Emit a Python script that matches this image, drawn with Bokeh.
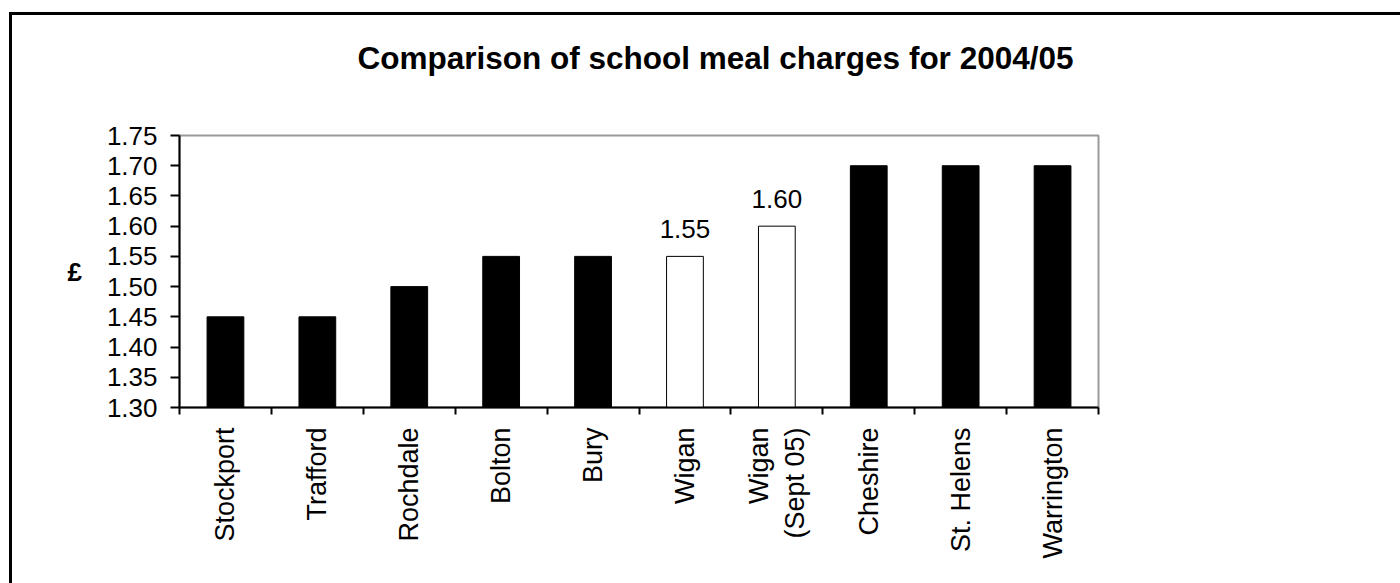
import math
from bokeh.plotting import figure
from bokeh.models import (ColumnDataSource, Range1d, FixedTicker, LabelSet,
                          NumeralTickFormatter, Title)
from bokeh.core.properties import value
from bokeh.embed import file_html
from bokeh.resources import INLINE

# ---- data ----
categories = ["Stockport", "Trafford", "Rochdale", "Bolton", "Bury", "Wigan",
              "Wigan\n(Sept 05)", "Cheshire", "St. Helens", "Warrington"]
charges = [1.45, 1.45, 1.50, 1.55, 1.55, 1.55, 1.60, 1.70, 1.70, 1.70]
is_wigan = [False, False, False, False, False, True, True, False, False, False]
y_ticks = ["1.30", "1.35", "1.40", "1.45", "1.50", "1.55", "1.60", "1.65", "1.70", "1.75"]
title_text = "Comparison of school meal charges for 2004/05"
y_label = "£"

FONT = "Liberation Sans"

xs = [i + 0.5 for i in range(len(categories))]
fills = ["white" if w else "black" for w in is_wigan]
y_vals = [float(t) for t in y_ticks]

src = ColumnDataSource(dict(x=xs, top=charges, fill=fills))
lab_src = ColumnDataSource(dict(
    x=[x for x, w in zip(xs, is_wigan) if w],
    y=[c for c, w in zip(charges, is_wigan) if w],
    text=["%.2f" % c for c, w in zip(charges, is_wigan) if w],
))

p = figure(width=1400, height=583, output_backend="svg", toolbar_location=None,
           x_range=Range1d(0, len(categories)), y_range=Range1d(y_vals[0], y_vals[-1]),
           min_border_left=179, min_border_right=302, min_border_top=135,
           min_border_bottom=176)
p.background_fill_color = "white"
p.border_fill_color = None
p.outline_line_color = "#9a9a9a"
p.outline_line_width = 2
p.xgrid.visible = False
p.ygrid.visible = False
# outer chart border (top and left edges visible in the window)
p.styles = {
    "background-color": "white",
    "background-image": "linear-gradient(#000,#000), linear-gradient(#000,#000)",
    "background-size": "3px 100%, 100% 3px",
    "background-position": "9px 12px, 9px 12px",
    "background-repeat": "no-repeat",
}

p.vbar(x="x", top="top", bottom=y_vals[0], width=0.4, fill_color="fill",
       line_color="black", line_width=1, source=src)

labels = LabelSet(x="x", y="y", text="text", source=lab_src, text_align="center",
                  text_baseline="alphabetic", y_offset=18, text_font=value(FONT),
                  text_font_size="26px", text_color="black")
p.add_layout(labels)

# spacer between frame and title (keeps the title high above the plot)
spacer = Title(text=" ", text_font_size="1px", text_color="white", standoff=57)
p.add_layout(spacer, "above")

# title
p.title.text = title_text
p.title.text_font = FONT
p.title.text_font_size = "31.5px"
p.title.text_font_style = "bold"
p.title.text_color = "black"
p.title.align = "left"
p.title.offset = 178
p.title.vertical_align = "bottom"
p.title.standoff = 0

# y axis
ya = p.yaxis[0]
ya.ticker = FixedTicker(ticks=y_vals, minor_ticks=[])
ya.formatter = NumeralTickFormatter(format="0.00")
ya.major_tick_in = 0
ya.major_tick_out = 9
ya.minor_tick_out = 0
ya.minor_tick_in = 0
ya.major_label_standoff = 13
ya.major_label_text_font = FONT
ya.major_label_text_font_size = "26px"
ya.major_label_text_color = "black"
ya.axis_line_color = "black"
ya.axis_line_width = 2
ya.major_tick_line_color = "black"
ya.major_tick_line_width = 2
ya.axis_label = y_label
ya.axis_label_text_font = FONT
ya.axis_label_text_font_size = "26px"
ya.axis_label_text_font_style = "bold"
ya.axis_label_text_color = "black"
ya.axis_label_standoff = 22
try:
    ya.axis_label_orientation = "horizontal"
except Exception:
    pass

# x axis: labels at centres, ticks at boundaries (minor ticks)
xa = p.xaxis[0]
xa.ticker = FixedTicker(ticks=xs, minor_ticks=list(range(len(categories) + 1)))
xa.major_label_overrides = {x: c for x, c in zip(xs, categories)}
xa.major_label_orientation = math.pi / 2
xa.major_tick_in = 0
xa.major_tick_out = 7
xa.major_tick_line_color = None
xa.minor_tick_in = 0
xa.minor_tick_out = 7
xa.minor_tick_line_color = "black"
xa.minor_tick_line_width = 2
xa.major_label_standoff = 13
xa.major_label_text_font = FONT
xa.major_label_text_font_size = "27px"
xa.major_label_text_color = "black"
xa.axis_line_color = "black"
xa.axis_line_width = 2

open("out.html", "w").write(file_html(p, INLINE))
